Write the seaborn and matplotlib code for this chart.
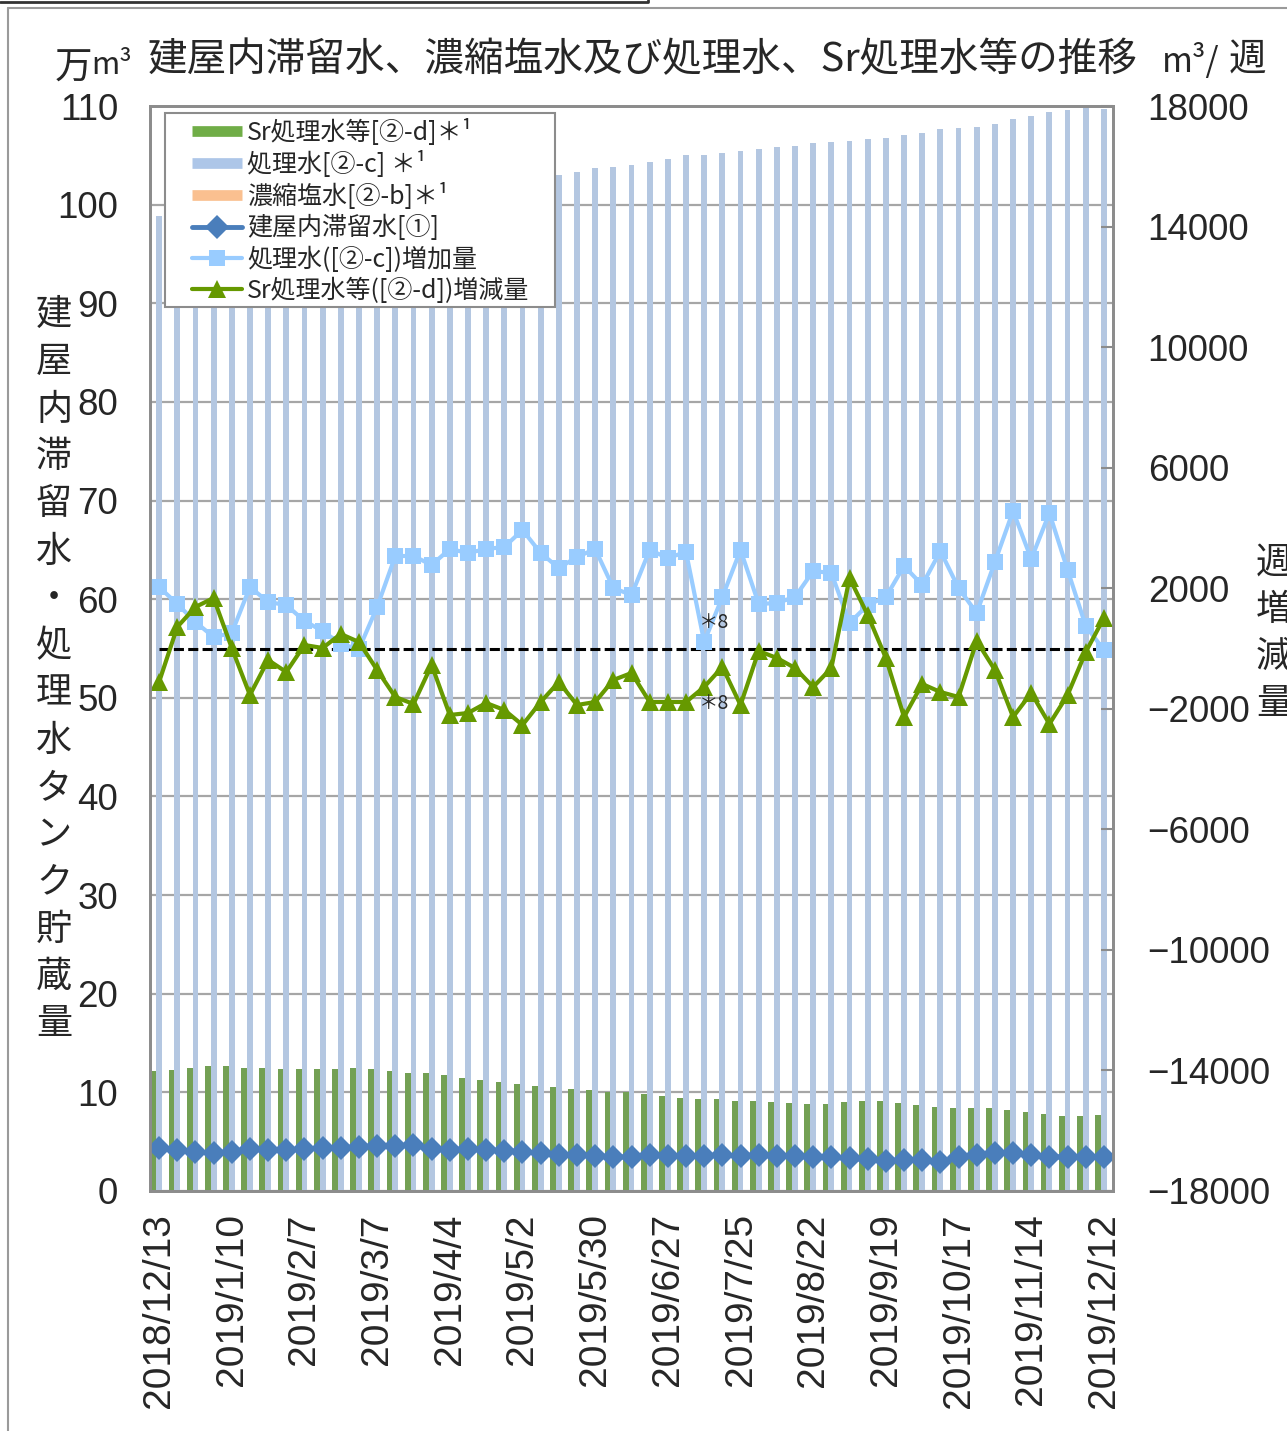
import numpy as np
import pandas as pd
import seaborn as sns
import matplotlib.pyplot as plt
from matplotlib.lines import Line2D
from matplotlib.patches import Rectangle

# tick labels (every 4th week)
week_labels = ['2018/12/13', '2019/1/10', '2019/2/7', '2019/3/7', '2019/4/4',
               '2019/5/2', '2019/5/30', '2019/6/27', '2019/7/25', '2019/8/22',
               '2019/9/19', '2019/10/17', '2019/11/14', '2019/12/12']

# stock (万m3), left axis
sr_stock = [12.2, 12.27, 12.44, 12.64, 12.64, 12.47, 12.44, 12.37, 12.37, 12.37,
            12.37, 12.44, 12.37, 12.17, 11.99, 11.96, 11.73, 11.49, 11.28, 11.08,
            10.85, 10.64, 10.51, 10.34, 10.21, 10.07, 10.01, 9.80, 9.63, 9.46,
            9.30, 9.30, 9.09, 9.09, 9.02, 8.95, 8.85, 8.79, 8.99, 9.12,
            9.09, 8.89, 8.72, 8.55, 8.45, 8.45, 8.38, 8.18, 8.01, 7.78,
            7.60, 7.60, 7.70]
treated_stock = [98.8, 99.0, 99.1, 99.1, 99.2, 99.4, 99.5, 99.7, 99.8, 99.8,
                 99.8, 99.8, 100.0, 100.3, 100.6, 100.9, 101.2, 101.5, 101.9, 102.2,
                 102.6, 102.8, 103.0, 103.3, 103.7, 103.8, 104.0, 104.3, 104.6, 105.0,
                 105.0, 105.2, 105.4, 105.6, 105.8, 105.9, 106.2, 106.4, 106.5, 106.7,
                 106.8, 107.1, 107.3, 107.7, 107.8, 107.9, 108.2, 108.7, 109.0, 109.4,
                 109.6, 109.8, 109.7]
conc_stock = [0.0, 0.0, 0.0, 0.0, 0.0, 0.0, 0.0, 0.0, 0.0, 0.0,
              0.0, 0.0, 0.0, 0.0, 0.0, 0.0, 0.0, 0.0, 0.0, 0.0,
              0.0, 0.0, 0.0, 0.0, 0.0, 0.0, 0.0, 0.0, 0.0, 0.0,
              0.0, 0.0, 0.0, 0.0, 0.0, 0.0, 0.0, 0.0, 0.0, 0.0,
              0.0, 0.0, 0.0, 0.0, 0.0, 0.0, 0.0, 0.0, 0.0, 0.0,
              0.0, 0.0, 0.0]
bldg = [4.33, 4.16, 3.99, 3.82, 3.99, 4.23, 4.16, 4.16, 4.23, 4.33,
        4.33, 4.49, 4.56, 4.56, 4.66, 4.23, 4.16, 4.23, 4.16, 4.09,
        3.99, 3.82, 3.65, 3.65, 3.55, 3.42, 3.48, 3.65, 3.55, 3.55,
        3.55, 3.65, 3.55, 3.65, 3.55, 3.55, 3.48, 3.42, 3.31, 3.21,
        3.07, 3.14, 3.14, 2.97, 3.48, 3.65, 3.82, 3.82, 3.65, 3.42,
        3.48, 3.42, 3.42]

# weekly change (m3/week), right axis
treated_inc = [2040, 1477, 879, 382, 514, 2040, 1543, 1443, 912, 581,
               149, -20, 1377, 3069, 3069, 2771, 3301, 3169, 3301, 3368,
               3932, 3169, 2671, 3036, 3301, 2007, 1775, 3268, 3003, 3202,
               216, 1709, 3268, 1477, 1510, 1709, 2571, 2505, 846, 1443,
               1709, 2737, 2107, 3235, 2007, 1178, 2870, 4562, 2970, 4496,
               2605, 747, -50]
sr_chg = [-1112, 713, 1377, 1676, 17, -1543, -382, -780, 116, 17,
          481, 216, -713, -1609, -1841, -547, -2206, -2140, -1808, -2040,
          -2538, -1775, -1112, -1875, -1775, -1045, -813, -1775, -1775, -1775,
          -1277, -614, -1875, -83, -315, -647, -1277, -647, 2339, 1112,
          -315, -2273, -1178, -1443, -1609, 249, -713, -2273, -1477, -2505,
          -1543, -116, 1012]

sns.set_theme(style='white')
plt.rcParams['font.family'] = ['Liberation Sans', 'Noto Sans CJK JP', 'DejaVu Sans']
jp = ['Noto Sans CJK JP', 'DejaVu Sans']

W, H = 1287, 1431
n = len(bldg)
week = list(range(n))

c_sr, c_tr, c_conc = '#70AD47', '#ADC6E8', '#FAC090'
c_bldg, c_inc, c_chg = '#4A7EBB', '#99CCFF', '#669900'
grey = '#8C8C8C'

bars = pd.DataFrame({
    'week': week * 3,
    'series': ['sr'] * n + ['treated'] * n + ['conc'] * n,
    'stock': sr_stock + treated_stock + conc_stock,
})

fig = plt.figure(figsize=(W / 100, H / 100), dpi=100)
ax = fig.add_axes([150 / W, 1 - 1191 / H, (1113 - 150) / W, (1191 - 106) / H])

sns.barplot(data=bars, x='week', y='stock', hue='series',
            hue_order=['sr', 'treated', 'conc'],
            palette={'sr': c_sr, 'treated': c_tr, 'conc': c_conc},
            native_scale=True, width=0.96, gap=0, errorbar=None,
            linewidth=0, legend=False, ax=ax, zorder=2)
sns.lineplot(x=week, y=bldg, ax=ax, color=c_bldg, lw=3.5, marker='D',
             markersize=12, markeredgewidth=0, zorder=3)

ax.set_xlim(-0.5, n - 0.5)
ax.set_ylim(0, 110)
ax.set_yticks(range(0, 111, 10))
ax.yaxis.grid(True, color='#A6A6A6', lw=1.6)
ax.set_axisbelow(True)
ax.set_xticks(week[::4])
ax.set_xticklabels(week_labels, rotation=90, fontsize=28)
ax.set_xticks(np.arange(-0.5, n, 1), minor=True)
ax.tick_params(axis='x', which='major', length=0, pad=16)
ax.tick_params(axis='x', which='minor', direction='in', length=8.6, width=2.5, color=grey)
ax.tick_params(axis='y', length=0, labelsize=26.5, pad=23)
ax.set_xlabel('')
ax.set_ylabel('')

ax2 = ax.twinx()
ax2.hlines(0, week[0], week[-1], colors='black', linestyles=(0, (3.3, 1.4)), lw=2.2)
sns.lineplot(x=week, y=treated_inc, ax=ax2, color=c_inc, lw=3, marker='s',
             markersize=11, markeredgewidth=0)
sns.lineplot(x=week, y=sr_chg, ax=ax2, color=c_chg, lw=3, marker='^',
             markersize=13, markeredgewidth=0)
ax2.set_ylim(-18000, 18000)
ax2.set_yticks(range(-18000, 18001, 4000))
ax2.tick_params(axis='y', direction='in', length=8.6, width=1.5, color=grey,
                labelsize=26.5, pad=25)
ax2.set_ylabel('')

for a in (ax, ax2):
    for s in a.spines.values():
        s.set_color(grey)
        s.set_linewidth(2)

# *8 notes at week 30
ax2.annotate('＊8', xy=(week[30], treated_inc[30]), xytext=(10, 19),
             textcoords='offset pixels', ha='center', va='center',
             fontsize=14, family=jp)
ax2.annotate('＊8', xy=(week[30], sr_chg[30]), xytext=(10, -17),
             textcoords='offset pixels', ha='center', va='center',
             fontsize=14, family=jp)

# legend
fig.add_artist(Rectangle((165 / W, 1 - 307 / H), (555 - 165) / W, (307 - 113) / H,
                         transform=fig.transFigure, facecolor='white',
                         edgecolor=grey, lw=1.5, zorder=4))
handles = [Line2D([], [], color=c_sr, lw=7.7, solid_capstyle='butt'),
           Line2D([], [], color=c_tr, lw=7.7, solid_capstyle='butt'),
           Line2D([], [], color=c_conc, lw=7.7, solid_capstyle='butt'),
           Line2D([], [], color=c_bldg, lw=3.5, marker='D', ms=12, mew=0),
           Line2D([], [], color=c_inc, lw=3, marker='s', ms=11, mew=0),
           Line2D([], [], color=c_chg, lw=3, marker='^', ms=13, mew=0)]
labels = ['Sr処理水等[②-d]＊¹', '処理水[②-c] ＊¹', '濃縮塩水[②-b]＊¹',
          '建屋内滞留水[①]', '処理水([②-c])増加量', 'Sr処理水等([②-d])増減量']
leg = fig.legend(handles, labels, loc='upper left',
                 bbox_to_anchor=(192 / W, 1 - 119 / H), bbox_transform=fig.transFigure,
                 frameon=False, prop={'family': jp, 'size': 18},
                 handlelength=2.0, handletextpad=0.2, labelspacing=0.2,
                 borderpad=0, borderaxespad=0)
leg.set_zorder(5)

# titles and axis captions
fig.text(643 / W, 1 - 60 / H, '建屋内滞留水、濃縮塩水及び処理水、Sr処理水等の推移',
         ha='center', va='center', fontsize=28.5, family=jp)
fig.text(55 / W, 1 - 68 / H, '万', ha='left', va='center', fontsize=27, family=jp)
fig.text(91 / W, 1 - 66 / H, 'm³', ha='left', va='center', fontsize=22, family=jp)
fig.text(1162 / W, 1 - 62 / H, 'm³/', ha='left', va='center', fontsize=24, family=jp)
fig.text(1266 / W, 1 - 60 / H, '週', ha='right', va='center', fontsize=27, family=jp)

for i, ch in enumerate('建屋内滞留水・処理水タンク貯蔵量'):
    fig.text(54 / W, 1 - (315 + i * 47.3) / H, ch, ha='center', va='center',
             fontsize=26, family=jp)
for i, ch in enumerate('週増減量'):
    fig.text(1274 / W, 1 - (563 + i * 47) / H, ch, ha='center', va='center',
             fontsize=26, family=jp)

# outer frame remnants
fig.add_artist(Line2D([8 / W, 8 / W], [0, 1 - 8 / H], transform=fig.transFigure,
                      color='#9A9A9A', lw=1.5))
fig.add_artist(Line2D([8 / W, 1], [1 - 8 / H, 1 - 8 / H], transform=fig.transFigure,
                      color='#9A9A9A', lw=1.5))
fig.add_artist(Line2D([0, 648 / W, 648 / W], [1 - 2 / H, 1 - 2 / H, 1],
                      transform=fig.transFigure, color='#333333', lw=2))

fig.savefig('out.png', dpi=100)
